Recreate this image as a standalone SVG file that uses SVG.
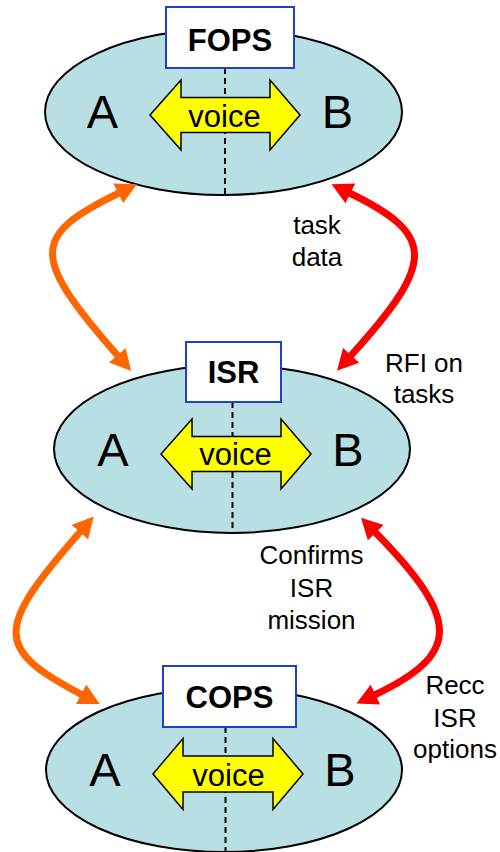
<svg xmlns="http://www.w3.org/2000/svg" width="500" height="852" viewBox="0 0 500 852">
<style>
.ell{fill:#b8dfe3;stroke:#000;stroke-width:2}
.dash{stroke:#000;stroke-width:2;stroke-dasharray:6 4;fill:none}
.yel{fill:#ffff00;stroke:#000;stroke-width:1.5;stroke-linejoin:miter}
.box{fill:#fff;stroke:#1f3fcf;stroke-width:2}
.big{font-family:"Liberation Sans",Arial,sans-serif;font-size:47px;fill:#000;text-anchor:middle}
.voice{font-family:"Liberation Sans",Arial,sans-serif;font-size:31px;fill:#000;text-anchor:middle}
.title{font-family:"Liberation Sans",Arial,sans-serif;font-size:31px;font-weight:bold;fill:#000;text-anchor:middle}
.lbl{font-family:"Liberation Sans",Arial,sans-serif;font-size:26px;fill:#000;text-anchor:middle}
.or{fill:none;stroke:#ff6600;stroke-width:7;marker-start:url(#mo);marker-end:url(#mo)}
.rd{fill:none;stroke:#ff0000;stroke-width:7;marker-start:url(#mr);marker-end:url(#mr)}
</style>
<defs>
<marker id="mo" markerUnits="userSpaceOnUse" viewBox="0 0 21 22" markerWidth="21" markerHeight="22" refX="1" refY="11" orient="auto-start-reverse"><path d="M0,0 L21,11 L0,22 Z" fill="#ff6600"/></marker>
<marker id="mr" markerUnits="userSpaceOnUse" viewBox="0 0 21 22" markerWidth="21" markerHeight="22" refX="1" refY="11" orient="auto-start-reverse"><path d="M0,0 L21,11 L0,22 Z" fill="#ff0000"/></marker>
</defs>

<g id="FOPS">
<ellipse class="ell" cx="223.5" cy="112" rx="178.5" ry="83"/>
<line class="dash" x1="225" y1="68" x2="225" y2="195"/>
<polygon class="yel" points="150,115 181,80 181,97.5 270,97.5 270,80 300,115 270,150 270,132.5 181,132.5 181,150"/>
<text class="voice" x="224.5" y="127">voice</text>
<text class="big" x="102.5" y="128">A</text>
<text class="big" x="337.5" y="128">B</text>
<rect class="box" x="166" y="7" width="128" height="61"/>
<text class="title" x="230" y="51">FOPS</text>
</g>

<g id="ISR">
<ellipse class="ell" cx="232" cy="449" rx="178" ry="84"/>
<line class="dash" x1="232.5" y1="402" x2="232.5" y2="533"/>
<polygon class="yel" points="161,454 192,419 192,436.5 281,436.5 281,419 311,454 281,489 281,471.5 192,471.5 192,489"/>
<text class="voice" x="235.5" y="465">voice</text>
<text class="big" x="113" y="466">A</text>
<text class="big" x="348" y="466">B</text>
<rect class="box" x="186" y="342" width="95" height="60"/>
<text class="title" x="233.5" y="383">ISR</text>
</g>

<g id="COPS">
<ellipse class="ell" cx="224" cy="770" rx="178" ry="82"/>
<line class="dash" x1="225.5" y1="727" x2="225.5" y2="852"/>
<polygon class="yel" points="153,774 183,738.5 183,756 273,756 273,738.5 303,774 273,809.5 273,792 183,792 183,809.5"/>
<text class="voice" x="228.5" y="786">voice</text>
<text class="big" x="105" y="786">A</text>
<text class="big" x="340" y="786">B</text>
<rect class="box" x="163" y="666" width="133" height="61"/>
<text class="title" x="229.5" y="708">COPS</text>
</g>

<g id="connectors">
<path class="or" d="M119,193 C30.5,236 30.5,256 118,356"/>
<path class="rd" d="M349.5,193 C436,235 436,262 350.5,356"/>
<path class="or" d="M80.5,531.5 C-5.7,629.5 -5.7,648.8 82,694.7"/>
<path class="rd" d="M375,532 C461,619.6 461,653.8 374.5,695"/>
</g>

<g id="labels">
<text class="lbl" x="317" y="234">task</text>
<text class="lbl" x="317" y="266">data</text>
<text class="lbl" x="424" y="372">RFI on</text>
<text class="lbl" x="424" y="403">tasks</text>
<text class="lbl" x="311.5" y="564">Confirms</text>
<text class="lbl" x="311.5" y="597">ISR</text>
<text class="lbl" x="311.5" y="629">mission</text>
<text class="lbl" x="455" y="694">Recc</text>
<text class="lbl" x="455" y="727">ISR</text>
<text class="lbl" x="455" y="758">options</text>
</g>
</svg>
